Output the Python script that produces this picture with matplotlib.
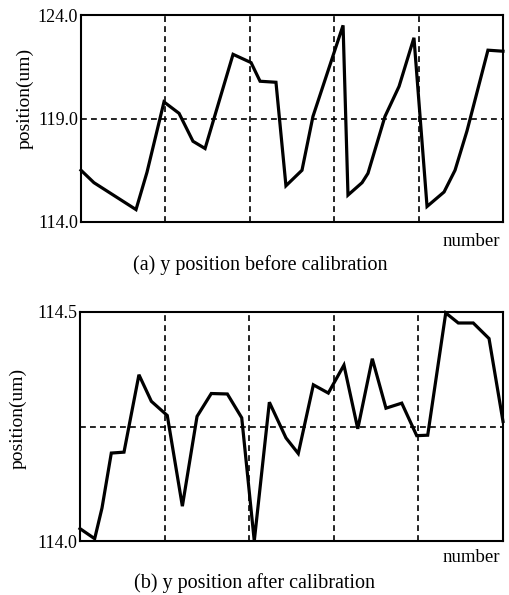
import matplotlib
matplotlib.use("Agg")
import matplotlib.pyplot as plt

plt.rcParams['font.family'] = ['Liberation Serif', 'DejaVu Serif']

# (a) y position before calibration
x_before = [0.0, 0.92, 3.91, 4.69, 5.90, 6.97, 7.96, 8.82, 10.81, 12.09, 12.73,
            13.86, 14.57, 15.71, 16.49, 18.63, 18.98, 19.98, 20.40, 21.61, 22.61,
            23.67, 24.60, 25.81, 26.59, 27.44, 28.93, 30.0]
y_before = [116.5, 115.9, 114.6, 116.4, 119.8, 119.25, 117.9, 117.55, 122.1, 121.7, 120.8,
            120.75, 115.75, 116.5, 119.1, 123.5, 115.3, 115.9, 116.35, 119.1, 120.55,
            122.9, 114.75, 115.45, 116.5, 118.4, 122.3, 122.25]

# (b) y position after calibration
x_after = [0.0, 1.04, 1.56, 2.22, 3.12, 4.18, 5.06, 6.19, 7.26, 8.30, 9.31,
           10.45, 11.47, 12.36, 13.43, 14.61, 15.48, 16.55, 17.61, 18.72, 19.70,
           20.73, 21.70, 22.82, 23.88, 24.66, 25.94, 26.83, 27.89, 29.01, 30.0]
y_after = [114.027, 114.005, 114.072, 114.192, 114.194, 114.363, 114.305, 114.274, 114.076, 114.272, 114.322,
           114.321, 114.269, 114.0, 114.303, 114.225, 114.191, 114.341, 114.323, 114.384, 114.245,
           114.398, 114.290, 114.301, 114.230, 114.231, 114.498, 114.476, 114.476, 114.442, 114.261]

grid_x = [6, 12, 18, 24]
ticks_a = [114.0, 119.0, 124.0]
ticks_b = [114.0, 114.5]
hline_a = 119.0
hline_b = 114.25

fig = plt.figure(figsize=(5.10, 5.95), dpi=100)

ax1 = fig.add_axes([81/510, 1-222/595, 422/510, 207/595])
ax2 = fig.add_axes([80/510, 1-541/595, 423/510, 229/595])

def style(ax, xs, ys, yticks, hline, ylim):
    ax.plot(xs, ys, color='black', lw=2.3, solid_joinstyle='miter', clip_on=False, zorder=3)
    for gx in grid_x:
        ax.axvline(gx, color='black', lw=1.2, ls=(0, (3.5, 2.5)), zorder=1)
    ax.axhline(hline, color='black', lw=1.2, ls=(0, (3.5, 2.5)), zorder=1)
    ax.set_xlim(0, 30)
    ax.set_ylim(*ylim)
    ax.set_xticks([])
    ax.set_yticks(yticks)
    ax.set_yticklabels([f"{t:.1f}" for t in yticks], fontsize=13)
    ax.tick_params(axis='y', length=0, pad=2)
    for s in ax.spines.values():
        s.set_linewidth(1.5)

style(ax1, x_before, y_before, ticks_a, hline_a, (114.0, 124.0))
style(ax2, x_after, y_after, ticks_b, hline_b, (114.0, 114.5))

fig.text(25/510, 1-98/595, "position(um)", rotation=90, ha='center', va='center', fontsize=14)
fig.text(18/510, 1-418/595, "position(um)", rotation=90, ha='center', va='center', fontsize=14)

fig.text(500/510, 1-242/595, "number", ha='right', va='center', fontsize=13.5)
fig.text(500/510, 1-558/595, "number", ha='right', va='center', fontsize=13.5)

fig.text(260/510, 1-265/595, "(a) y position before calibration", ha='center', va='center', fontsize=14.5)
fig.text(255/510, 1-583/595, "(b) y position after calibration", ha='center', va='center', fontsize=14.5)

fig.savefig("out.png", dpi=100)
